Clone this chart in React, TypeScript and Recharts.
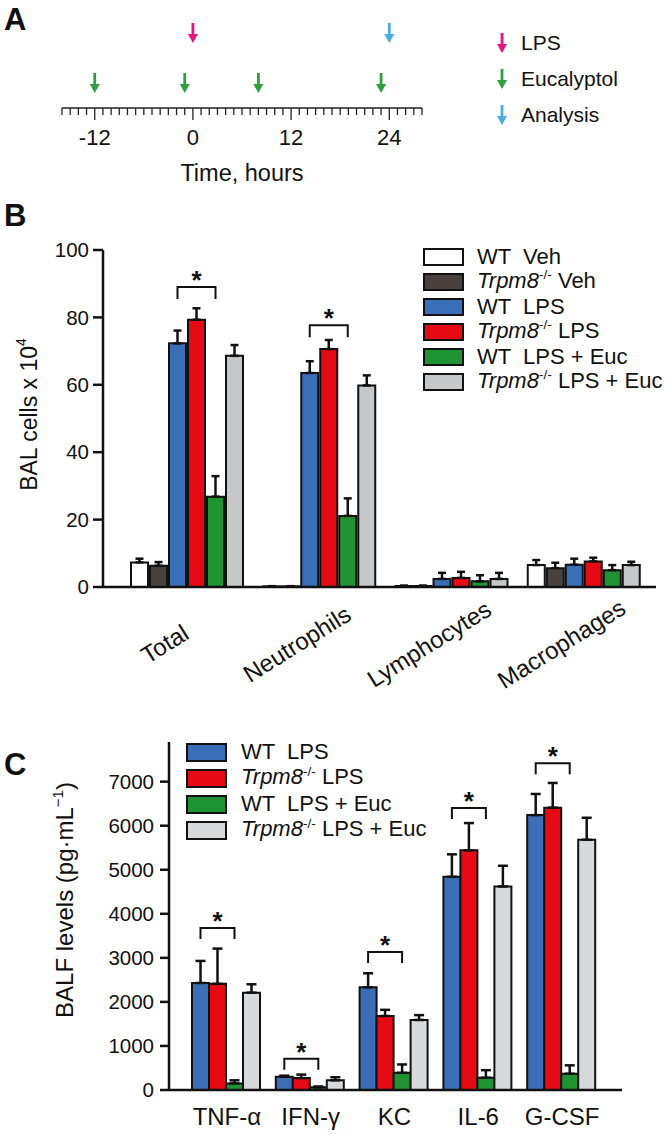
import React from 'react';
import { BarChart, Bar, XAxis, YAxis, ErrorBar, LabelList, ScatterChart, Scatter } from 'recharts';

const FONT = 'Arial, "Liberation Sans", Helvetica, sans-serif';
const INK = '#111111';

// ---------------- Panel A: timeline ----------------
const majorHours = [-12, 0, 12, 24];
const hourTicks = Array.from({ length: 45 }, (_, i) => i - 16);
const lpsHours = [0];
const eucalyptolHours = [-12, -1, 8, 23];
const analysisHours = [24];
const timelineNames = ['LPS', 'Eucalyptol', 'Analysis'];
const timelineColors = ['#e4157f', '#2f9e3f', '#4aaee2'];

// ---------------- Panel B: BAL cells ----------------
const cellCategories = ['Total', 'Neutrophils', 'Lymphocytes', 'Macrophages'];
const cellTicks = [0, 20, 40, 60, 80, 100];
const wtVehCells = [7.3, 0.2, 0.3, 6.5];
const wtVehCellsErr = [1.1, 0.05, 0.1, 1.5];
const trpmVehCells = [6.3, 0.2, 0.3, 5.6];
const trpmVehCellsErr = [1.1, 0.05, 0.1, 1.6];
const wtLpsCells = [72.3, 63.5, 2.4, 6.6];
const wtLpsCellsErr = [3.8, 3.5, 1.8, 1.8];
const trpmLpsCells = [79.3, 70.6, 2.7, 7.6];
const trpmLpsCellsErr = [3.4, 2.7, 1.8, 1.1];
const wtLpsEucCells = [26.8, 21.1, 1.7, 5.0];
const wtLpsEucCellsErr = [6.1, 5.2, 1.8, 1.5];
const trpmLpsEucCells = [68.6, 59.8, 2.4, 6.5];
const trpmLpsEucCellsErr = [3.2, 3.0, 1.8, 1.0];
const cellSignificance = [89, 77.7, null, null];
const cellSeriesNames = ['WT  Veh', 'Trpm8|-/-| Veh', 'WT  LPS', 'Trpm8|-/-| LPS', 'WT  LPS + Euc', 'Trpm8|-/-| LPS + Euc'];
const cellSeriesColors = ['#ffffff', '#4a403e', '#3a6fb7', '#e50a14', '#1f9231', '#c6c7c9'];

// ---------------- Panel C: BALF cytokines ----------------
const cytokineCategories = ['TNF-α', 'IFN-γ', 'KC', 'IL-6', 'G-CSF'];
const cytokineTicks = [0, 1000, 2000, 3000, 4000, 5000, 6000, 7000];
const wtLpsCyto = [2430, 300, 2330, 4840, 6240];
const wtLpsCytoErr = [500, 25, 320, 510, 480];
const trpmLpsCyto = [2410, 270, 1680, 5440, 6410];
const trpmLpsCytoErr = [800, 80, 140, 620, 560];
const wtLpsEucCyto = [150, 60, 390, 280, 370];
const wtLpsEucCytoErr = [70, 20, 190, 170, 190];
const trpmLpsEucCyto = [2210, 220, 1590, 4620, 5680];
const trpmLpsEucCytoErr = [190, 70, 110, 470, 500];
const cytokineSignificance = [3680, 710, 3135, 6400, 7420];
const cytoSeriesNames = ['WT  LPS', 'Trpm8|-/-| LPS', 'WT  LPS + Euc', 'Trpm8|-/-| LPS + Euc'];
const cytoSeriesColors = ['#3a6fb7', '#e50a14', '#1f9231', '#d8d9da'];

// ---------------- derived tables ----------------
const timelineRows = [
  lpsHours.map((t) => ({ t, row: 2 })),
  eucalyptolHours.map((t) => ({ t, row: 1 })),
  analysisHours.map((t) => ({ t, row: 2 })),
];

const cellKeys = ['wtVeh', 'trpmVeh', 'wtLps', 'trpmLps', 'wtLpsEuc', 'trpmLpsEuc'];
const cellVals = [wtVehCells, trpmVehCells, wtLpsCells, trpmLpsCells, wtLpsEucCells, trpmLpsEucCells];
const cellErrs = [wtVehCellsErr, trpmVehCellsErr, wtLpsCellsErr, trpmLpsCellsErr, wtLpsEucCellsErr, trpmLpsEucCellsErr];
const cellData = cellCategories.map((name, i) => {
  const row: any = { name, sig: cellSignificance[i] };
  cellKeys.forEach((k, j) => {
    row[k] = cellVals[j][i];
    row[k + 'Err'] = [0, cellErrs[j][i]];
  });
  return row;
});

const cytoKeys = ['wtLps', 'trpmLps', 'wtLpsEuc', 'trpmLpsEuc'];
const cytoVals = [wtLpsCyto, trpmLpsCyto, wtLpsEucCyto, trpmLpsEucCyto];
const cytoErrs = [wtLpsCytoErr, trpmLpsCytoErr, wtLpsEucCytoErr, trpmLpsEucCytoErr];
const cytoData = cytokineCategories.map((name, i) => {
  const row: any = { name, sig: cytokineSignificance[i] };
  cytoKeys.forEach((k, j) => {
    row[k] = cytoVals[j][i];
    row[k + 'Err'] = [0, cytoErrs[j][i]];
  });
  return row;
});

// ---------------- helpers ----------------
const makeArrow = (color: string) => (props: any) => {
  const { cx, cy } = props;
  return (
    <g>
      <line x1={cx} y1={cy - 10} x2={cx} y2={cy + 3} stroke={color} strokeWidth={2.8} />
      <polygon points={`${cx - 5},${cy + 1} ${cx + 5},${cy + 1} ${cx},${cy + 10}`} fill={color} />
    </g>
  );
};

const TimeTick = (props: any) => {
  const { x, y, payload } = props;
  const major = majorHours.includes(payload.value);
  return (
    <g>
      <line x1={x} y1={y} x2={x} y2={y + (major ? 12 : 7)} stroke="#222" strokeWidth={1.3} />
      {major && (
        <text x={x} y={y + 37} textAnchor="middle" fontSize={22} fill={INK} fontFamily={FONT}>
          {payload.value}
        </text>
      )}
    </g>
  );
};

const CellTick = (props: any) => {
  const { x, y, payload } = props;
  return (
    <g transform={`translate(${x - 19},${y + 64}) rotate(-32)`}>
      <text textAnchor="middle" fontSize={24} fill={INK} fontFamily={FONT}>
        {payload.value}
      </text>
    </g>
  );
};

const CytoTick = (props: any) => {
  const { x, y, payload } = props;
  return (
    <text x={x} y={y + 35} textAnchor="middle" fontSize={24} fill={INK} fontFamily={FONT}>
      {payload.value}
    </text>
  );
};

const makeBracket = (data: any[], valueKey: string, barGap: number, tip: number) => (props: any) => {
  const index = props.index;
  const entry = data[index] || props.payload;
  if (!entry || entry.sig == null) return null;
  const vb = props.viewBox && props.viewBox.width != null ? props.viewBox : props;
  const { x, y, width, height } = vb;
  const top = Math.min(y, y + height);
  const bottom = Math.max(y, y + height);
  const ppu = (bottom - top) / entry[valueKey];
  const by = bottom - entry.sig * ppu;
  const x1 = x + width / 2;
  const x2 = x1 + 2 * (width + barGap);
  return (
    <g>
      <path d={`M${x1},${by + tip} V${by} H${x2} V${by + tip}`} fill="none" stroke={INK} strokeWidth={2} />
      <text x={(x1 + x2) / 2} y={by + 2} textAnchor="middle" fontSize={26} fontWeight="bold" fill={INK} fontFamily={FONT}>
        *
      </text>
    </g>
  );
};

const YLabelB = (props: any) => {
  const vb = props.viewBox;
  const cx = 37;
  const cy = vb.y + vb.height / 2 - 4;
  return (
    <text x={cx} y={cy} transform={`rotate(-90 ${cx} ${cy})`} textAnchor="middle" fontSize={23} fill={INK} fontFamily={FONT}>
      BAL cells x 10
      <tspan dy={-11} fontSize={14}>4</tspan>
    </text>
  );
};

const YLabelC = (props: any) => {
  const vb = props.viewBox;
  const cx = 73;
  const cy = vb.y + vb.height / 2 - 16;
  return (
    <text x={cx} y={cy} transform={`rotate(-90 ${cx} ${cy})`} textAnchor="middle" fontSize={24} fill={INK} fontFamily={FONT}>
      BALF levels (pg·mL
      <tspan dy={-10} fontSize={15}>−1</tspan>
      <tspan dy={10}>)</tspan>
    </text>
  );
};

const SeriesName = ({ name }: { name: string }) => {
  const parts = name.split('|');
  if (parts.length === 3) {
    return (
      <span style={{ whiteSpace: 'pre' }}>
        <span style={{ fontStyle: 'italic' }}>{parts[0]}</span>
        <span style={{ fontSize: '0.62em', position: 'relative', top: '-0.6em' }}>{parts[1]}</span>
        {parts[2]}
      </span>
    );
  }
  return <span style={{ whiteSpace: 'pre' }}>{name}</span>;
};

const BoxLegend = ({ names, colors, left, top, pitch, boxW, boxH, fontSize, gap }: any) => (
  <div style={{ position: 'absolute', left, top, fontFamily: FONT, color: INK }}>
    {names.map((n: string, i: number) => (
      <div key={n} style={{ display: 'flex', alignItems: 'center', height: pitch }}>
        <div style={{ width: boxW, height: boxH, background: colors[i], border: '2.5px solid #111', boxSizing: 'border-box', flex: 'none' }} />
        <div style={{ marginLeft: gap, fontSize, lineHeight: `${pitch}px` }}>
          <SeriesName name={n} />
        </div>
      </div>
    ))}
  </div>
);

const panelLetter = (letter: string, left: number, top: number) => (
  <div style={{ position: 'absolute', left, top, fontFamily: FONT, fontWeight: 'bold', fontSize: 31, lineHeight: '31px', color: INK }}>
    {letter}
  </div>
);

export default function App() {
  return (
    <div style={{ position: 'absolute', left: 0, top: 0, width: 667, height: 1135, background: '#fff', fontFamily: FONT, overflow: 'hidden' }}>
      {/* Panel A */}
      {panelLetter('A', 4, 4)}
      <div style={{ position: 'absolute', left: 0, top: 0 }}>
        <ScatterChart width={440} height={190} margin={{ top: 8, right: 18, bottom: 0, left: 62 }}>
          <XAxis
            type="number"
            dataKey="t"
            domain={[-16, 28]}
            ticks={hourTicks}
            interval={0}
            tick={(p: any) => <TimeTick {...p} />}
            tickLine={false}
            tickSize={0}
            tickMargin={0}
            axisLine={{ stroke: '#222', strokeWidth: 1.5 }}
            height={82}
            label={{ value: 'Time, hours', position: 'insideBottom', offset: 9, fontSize: 23.5, fill: INK, fontFamily: FONT }}
          />
          <YAxis type="number" dataKey="row" domain={[0.5, 2.5]} hide />
          {timelineRows.map((rows, i) => (
            <Scatter key={timelineNames[i]} name={timelineNames[i]} data={rows} shape={makeArrow(timelineColors[i])} isAnimationActive={false} />
          ))}
        </ScatterChart>
      </div>
      <div style={{ position: 'absolute', left: 495, top: 25, fontFamily: FONT, color: INK }}>
        {timelineNames.map((n, i) => (
          <div key={n} style={{ display: 'flex', alignItems: 'center', height: 36 }}>
            <svg width={14} height={24}>
              <line x1={7} y1={2} x2={7} y2={15} stroke={timelineColors[i]} strokeWidth={2.8} />
              <polygon points="2,13 12,13 7,22" fill={timelineColors[i]} />
            </svg>
            <span style={{ marginLeft: 12, fontSize: 21 }}>{n}</span>
          </div>
        ))}
      </div>

      {/* Panel B */}
      {panelLetter('B', 4, 200)}
      <div style={{ position: 'absolute', left: 0, top: 200 }}>
        <BarChart width={667} height={520} data={cellData} margin={{ top: 50, right: 11, bottom: 0, left: 0 }} barCategoryGap={9} barGap={2}>
          <XAxis
            dataKey="name"
            interval={0}
            tick={(p: any) => <CellTick {...p} />}
            tickLine={false}
            tickSize={0}
            tickMargin={0}
            height={133}
            padding={{ left: 19, right: 5 }}
            axisLine={{ stroke: INK, strokeWidth: 2.5 }}
          />
          <YAxis
            domain={[0, 100]}
            ticks={cellTicks}
            width={103}
            tickSize={10}
            tickMargin={4}
            axisLine={{ stroke: INK, strokeWidth: 2.5 }}
            tickLine={{ stroke: INK, strokeWidth: 2.5 }}
            tick={{ fontSize: 20.5, fill: INK, fontFamily: FONT }}
            label={YLabelB}
          />
          {cellKeys.map((k, i) => (
            <Bar key={k} dataKey={k} name={cellSeriesNames[i]} fill={cellSeriesColors[i]} stroke={INK} strokeWidth={2} isAnimationActive={false}>
              <ErrorBar dataKey={k + 'Err'} width={4} strokeWidth={2.5} stroke={INK} direction="y" />
              {k === 'wtLps' && <LabelList dataKey="sig" content={makeBracket(cellData, 'wtLps', 2, 12)} />}
            </Bar>
          ))}
        </BarChart>
      </div>
      <BoxLegend names={cellSeriesNames} colors={cellSeriesColors} left={423} top={244} pitch={25} boxW={41} boxH={18} fontSize={22} gap={13} />

      {/* Panel C */}
      {panelLetter('C', 4, 749)}
      <div style={{ position: 'absolute', left: 0, top: 700 }}>
        <BarChart width={667} height={435} data={cytoData} margin={{ top: 42, right: 45, bottom: 0, left: 0 }} barCategoryGap={7} barGap={0}>
          <XAxis
            dataKey="name"
            interval={0}
            tick={(p: any) => <CytoTick {...p} />}
            tickLine={false}
            tickSize={0}
            tickMargin={0}
            height={45}
            padding={{ left: 16, right: 18 }}
            axisLine={{ stroke: INK, strokeWidth: 2.5 }}
          />
          <YAxis
            domain={[0, 7900]}
            ticks={cytokineTicks}
            width={169}
            tickSize={9}
            tickMargin={6}
            axisLine={{ stroke: INK, strokeWidth: 2.5 }}
            tickLine={{ stroke: INK, strokeWidth: 2.5 }}
            tick={{ fontSize: 20.5, fill: INK, fontFamily: FONT }}
            label={YLabelC}
          />
          {cytoKeys.map((k, i) => (
            <Bar key={k} dataKey={k} name={cytoSeriesNames[i]} fill={cytoSeriesColors[i]} stroke={INK} strokeWidth={2} isAnimationActive={false}>
              <ErrorBar dataKey={k + 'Err'} width={5} strokeWidth={2.5} stroke={INK} direction="y" />
              {k === 'wtLps' && <LabelList dataKey="sig" content={makeBracket(cytoData, 'wtLps', 0, 11)} />}
            </Bar>
          ))}
        </BarChart>
      </div>
      <BoxLegend names={cytoSeriesNames} colors={cytoSeriesColors} left={186} top={739} pitch={26.2} boxW={41} boxH={19} fontSize={22} gap={14} />
    </div>
  );
}
